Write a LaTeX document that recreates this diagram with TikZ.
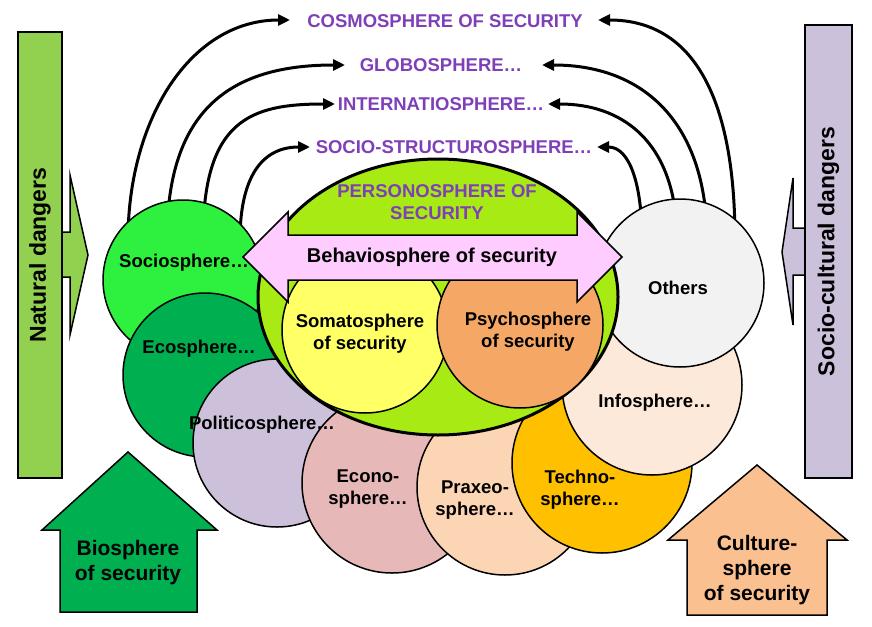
\documentclass[tikz,border=0pt]{standalone}
\usepackage{fontspec}
\setmainfont{Liberation Sans}
\usetikzlibrary{arrows.meta,shapes.geometric}

\definecolor{sociogreen}{HTML}{2EF03E}
\definecolor{ecogreen}{HTML}{00B050}
\definecolor{politicolav}{HTML}{CCC0DA}
\definecolor{econopink}{HTML}{E6B9B8}
\definecolor{praxeopeach}{HTML}{FCD5B5}
\definecolor{technoorange}{HTML}{FFC000}
\definecolor{infocream}{HTML}{FDE9D9}
\definecolor{othersgrey}{HTML}{F2F2F2}
\definecolor{personolime}{HTML}{A8EA14}
\definecolor{somayellow}{HTML}{FFFF66}
\definecolor{psychoorange}{HTML}{F5A865}
\definecolor{behaviopink}{HTML}{FFCCFF}
\definecolor{spherepurple}{HTML}{7E3FB8}
\definecolor{naturalgreen}{HTML}{92D050}
\definecolor{culturallav}{HTML}{CCC1DA}
\definecolor{culturepeach}{HTML}{FAC090}

\tikzset{
  sphere/.style={circle, draw=black, line width=1.5pt, inner sep=0pt},
  lbl/.style={font=\bfseries\fontsize{18.5}{22}\selectfont, align=center, text=black, inner sep=0pt},
  purplelbl/.style={lbl, text=spherepurple},
  bigtxt/.style={font=\bfseries\fontsize{21}{25}\selectfont, align=center, inner sep=0pt},
  sidetxt/.style={font=\bfseries\fontsize{23}{27}\selectfont, draw=black, line width=1.5pt, inner sep=0pt, rotate=90},
  outarrow/.style={line width=3pt, -{Triangle[length=12pt,width=11pt]}},
  blockshape/.style={draw=black, line width=1.5pt, line join=miter},
}

\begin{document}
\begin{tikzpicture}[x=1pt,y=-1pt]
\useasboundingbox (0,0) rectangle (872,626);

% outer spheres listed above the person
\node[purplelbl] (cosmo)  at (445,21)  {COSMOSPHERE OF SECURITY};
\node[purplelbl] (globo)  at (441,65)  {GLOBOSPHERE…};
\node[purplelbl] (inter)  at (441,104) {INTERNATIOSPHERE…};
\node[purplelbl] (struct) at (454,147) {SOCIO-STRUCTUROSPHERE…};

% start points (hidden under the side circles) and arrow tips
\coordinate (l1) at (128,240); \coordinate (t1l) at (290,20);
\coordinate (l2) at (167,240); \coordinate (t2l) at (345,65);
\coordinate (l3) at (203,240); \coordinate (t3l) at (335,104);
\coordinate (l4) at (240,240); \coordinate (t4l) at (310,147);
\coordinate (r1) at (735,240); \coordinate (t1r) at (598,20);
\coordinate (r2) at (707,240); \coordinate (t2r) at (542,65);
\coordinate (r3) at (677,240); \coordinate (t3r) at (548,104);
\coordinate (r4) at (642,240); \coordinate (t4r) at (597,147);

\draw[outarrow] (l1) .. controls (128,120) and (190,20) .. (t1l);
\draw[outarrow] (l2) .. controls (167,110) and (230,65) .. (t2l);
\draw[outarrow] (l3) .. controls (203,120) and (250,104) .. (t3l);
\draw[outarrow] (l4) .. controls (240,180) and (260,147) .. (t4l);
\draw[outarrow] (r1) .. controls (735,110) and (700,20) .. (t1r);
\draw[outarrow] (r2) .. controls (707,130) and (650,65) .. (t2r);
\draw[outarrow] (r3) .. controls (677,150) and (630,104) .. (t3r);
\draw[outarrow] (r4) .. controls (642,185) and (630,147) .. (t4r);

% danger bars with their arrows
\path[blockshape, fill=naturalgreen] (55,232) -- (70,232) -- (70,175) -- (88,255)
  -- (70,335) -- (70,277) -- (55,277) -- cycle;
\node[sidetxt, fill=naturalgreen, minimum width=446pt, minimum height=44pt] (natural) at (40,255) {Natural dangers};
\path[blockshape, fill=culturallav] (812,228) -- (793,228) -- (793,178) -- (782,252)
  -- (793,325) -- (793,275) -- (812,275) -- cycle;
\node[sidetxt, fill=culturallav, minimum width=453pt, minimum height=47pt] (cultural) at (828.5,251.5) {Socio-cultural dangers};

% ring of spheres
\node[sphere, fill=sociogreen,   minimum size=160pt] (socio)    at (183,280) {};
\node[sphere, fill=ecogreen,     minimum size=164pt] (eco)      at (205,375) {};
\node[sphere, fill=politicolav,  minimum size=168pt] (politico) at (277,443) {};
\node[sphere, fill=econopink,    minimum size=180pt] (econo)    at (392,483) {};
\node[sphere, fill=praxeopeach,  minimum size=176pt] (praxeo)   at (505,487) {};
\node[sphere, fill=technoorange, minimum size=180pt] (techno)   at (602,463) {};
\node[sphere, fill=infocream,    minimum size=180pt] (info)     at (652,385) {};
\node[sphere, fill=othersgrey,   minimum size=168pt] (others)   at (680,283) {};

% the person
\node[ellipse, draw=black, line width=3pt, fill=personolime, inner sep=0pt,
      minimum width=360pt, minimum height=276pt] (person) at (438,297) {};
\node[sphere, fill=somayellow,   minimum size=166pt] (soma)   at (365,330) {};
\node[sphere, fill=psychoorange, minimum size=166pt] (psycho) at (520,325) {};

\path[blockshape, fill=behaviopink] (243,257) -- (288,212) -- (288,235) -- (577,235)
  -- (577,212) -- (622,257) -- (577,302) -- (577,280) -- (288,280) -- (288,302) -- cycle;

% labels
\node[lbl] (sociotxt)    at (184,263) {Sociosphere…};
\node[lbl] (ecotxt)      at (199,349) {Ecosphere…};
\node[lbl] (politicotxt) at (262,425) {Politicosphere…};
\node[lbl] (econotxt)    at (368,489) {Econo-\\sphere…};
\node[lbl] (praxeotxt)   at (475,500) {Praxeo-\\sphere…};
\node[lbl] (technotxt)   at (580,490) {Techno-\\sphere…};
\node[lbl] (infotxt)     at (655,403) {Infosphere…};
\node[lbl] (otherstxt)   at (678,288) {Others};
\node[lbl] (somatxt)     at (360,334) {Somatosphere\\of security};
\node[lbl] (psychotxt)   at (528,332) {Psychosphere\\of security};
\node[purplelbl] (personotxt) at (437,202) {PERSONOSPHERE OF\\SECURITY};
\node[lbl, font=\bfseries\fontsize{20}{24}\selectfont] (behaviotxt) at (432,257) {Behaviosphere of security};

% bio- and culture-spheres
\path[blockshape, fill=ecogreen] (128,452) -- (217,530) -- (197,530) -- (197,612)
  -- (60,612) -- (60,530) -- (42,530) -- cycle;
\node[bigtxt] (biotxt) at (128,563) {Biosphere\\of security};
\path[blockshape, fill=culturepeach] (757,465) -- (847,540) -- (827,540) -- (827,615)
  -- (687,615) -- (687,540) -- (668,540) -- cycle;
\node[bigtxt] (culturetxt) at (757,570) {Culture-\\sphere\\of security};
\end{tikzpicture}
\end{document}
